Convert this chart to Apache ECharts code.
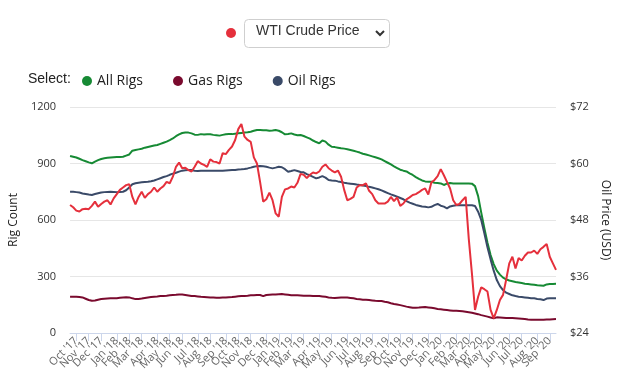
<!DOCTYPE html>
<html>
<head>
<meta charset="utf-8">
<script src="https://cdn.jsdelivr.net/npm/echarts@6/dist/echarts.min.js"></script>
<style>
html,body{margin:0;padding:0;background:#fff;}
#chart{width:626px;height:383px;}
</style>
</head>
<body>
<div id="chart"></div>
<script>
// Weekly observations, first week 2017-09-22, last week 2020-09-18
const firstWeek = '2017-09-22';
const weekCount = 157;

const monthLabels = ["Oct '17","Nov '17","Dec '17","Jan '18","Feb '18","Mar '18","Apr '18","May '18","Jun '18","Jul '18","Aug '18","Sep '18","Oct '18","Nov '18","Dec '18","Jan '19","Feb '19","Mar '19","Apr '19","May '19","Jun '19","Jul '19","Aug '19","Sep '19","Oct '19","Nov '19","Dec '19","Jan '20","Feb '20","Mar '20","Apr '20","May '20","Jun '20","Jul '20","Aug '20","Sep '20"];

const allRigs = [940,936,932,925,918,912,906,901,910,918,924,928,930,932,933,934,934,936,942,948,
968,972,975,978,984,988,992,995,998,1004,1010,1016,1024,1033,1045,1055,1062,1065,1064,1060,
1053,1052,1056,1054,1055,1055,1052,1050,1048,1052,1055,1056,1056,1058,1060,1062,1064,1066,1069,1074,
1078,1078,1077,1076,1074,1075,1078,1074,1066,1055,1057,1060,1054,1050,1051,1046,1039,1032,1022,1014,
1007,1022,1016,1000,989,987,984,981,979,976,972,968,963,958,952,948,943,938,933,928,
922,913,904,895,885,876,867,862,858,848,839,828,818,810,805,803,803,798,796,794,
786,793,796,794,794,794,794,794,794,793,780,727,639,556,479,414,366,331,310,294,
285,279,275,271,268,265,262,260,258,256,253,252,251,258,260,260,261];

const gasRigs = [193,193,192,191,189,182,175,171,173,177,180,182,183,184,184,185,187,189,190,189,
184,180,181,183,186,189,191,193,194,196,197,198,200,202,203,205,204,202,199,196,
196,194,192,191,190,189,188,187,187,188,189,190,191,193,195,196,197,198,200,201,
202,202,196,202,203,204,205,206,207,205,203,201,200,200,199,198,198,198,197,196,
196,194,192,189,187,186,187,188,189,188,186,184,181,179,177,176,175,173,171,170,
170,166,163,158,154,151,148,144,140,137,134,134,135,137,138,136,134,131,128,126,
124,122,120,118,118,117,115,113,110,107,104,100,95,91,87,82,78,83,82,81,
80,80,79,78,77,76,74,72,71,71,71,71,71,72,72,73,74];

const oilRigs = [750,750,748,746,741,738,735,733,738,742,746,748,749,750,749,748,749,750,758,773,
790,795,798,800,802,803,806,810,816,822,828,833,840,846,851,857,862,864,865,865,
862,860,862,861,862,862,861,862,861,862,863,864,865,866,868,869,871,874,878,883,
886,887,885,883,878,874,878,883,880,870,856,860,865,860,855,853,844,837,829,821,
826,833,825,812,810,809,805,802,798,795,793,791,788,786,783,780,776,773,768,763,
757,750,743,736,730,724,717,710,700,692,686,680,676,672,670,667,670,679,685,676,
671,662,672,676,678,678,678,678,678,678,674,644,600,529,455,391,331,281,249,228,
214,207,200,196,193,191,189,187,185,184,181,179,175,183,184,184,184];

const wtiPrice = [51.2,50.7,50.0,49.8,50.3,50.4,50.3,51.0,51.9,50.8,51.4,51.9,52.2,51.3,52.6,53.5,54.4,54.9,55.4,55.6,
52.9,51.3,52.9,54.0,52.7,53.5,54.0,54.9,54.0,54.7,55.2,56.1,55.8,57.2,59.3,60.2,59.0,59.1,58.6,58.3,
59.3,60.5,60.0,59.7,59.3,60.9,60.4,60.3,60.0,62.2,62.0,62.9,63.6,65.0,67.3,68.4,65.7,65.0,64.6,61.3,
60.0,56.1,51.9,52.4,53.8,52.2,49.4,48.7,52.9,54.5,54.7,55.1,54.9,55.9,57.8,57.6,56.9,57.6,58.1,57.9,
58.3,59.3,59.8,59.0,58.5,58.1,58.5,57.2,54.4,52.2,52.5,52.9,54.9,55.4,55.4,55.8,54.2,53.5,52.2,51.5,
51.5,51.5,51.9,52.9,52.0,52.8,51.0,51.5,52.4,52.8,53.3,53.5,53.9,54.4,54.7,53.4,56.0,56.5,57.3,58.8,
57.5,56.1,54.7,52.2,51.2,51.4,52.2,52.9,44.0,36.7,28.9,31.7,33.7,33.3,32.8,28.9,27.1,28.9,31.0,32.1,
35.3,38.8,40.2,37.7,39.9,39.4,40.4,41.1,41.1,41.5,40.8,41.8,42.3,42.9,40.2,38.8,37.4];

const seriesNames = ['All Rigs','Gas Rigs','Oil Rigs'];
const priceName = 'WTI Crude Price';

// build weekly category dates
const weeks = [];
{
  const d0 = new Date(firstWeek + 'T12:00:00Z');
  for (let i = 0; i < weekCount; i++) {
    const d = new Date(d0.getTime() + i * 7 * 86400000);
    weeks.push(d.toISOString().slice(0, 10));
  }
}
// index of the first week in each month gets a label
const labelAt = {};
{
  let prevMonth = weeks[0].slice(0, 7);
  let k = 0;
  for (let i = 1; i < weeks.length; i++) {
    const m = weeks[i].slice(0, 7);
    if (m !== prevMonth) {
      if (k < monthLabels.length) labelAt[i] = monthLabels[k];
      k++;
      prevMonth = m;
    }
  }
}
const showIdx = (idx) => labelAt.hasOwnProperty(idx);

const C = {green:'#168a34', maroon:'#7a0a2e', blue:'#3a4a68', red:'#e5303c'};
const FONT = '"Open Sans", "Noto Sans", sans-serif';

const chart = echarts.init(document.getElementById('chart'), null, {renderer:'canvas'});
chart.setOption({
  animation: false,
  textStyle: {fontFamily: FONT},
  grid: {left: 68, right: 70, top: 107, bottom: 50},
  legend: {
    data: seriesNames,
    left: 77, top: 69,
    icon: 'circle', itemWidth: 10, itemHeight: 10, itemGap: 30,
    textStyle: {fontSize: 14, color: '#222', fontFamily: FONT}
  },
  graphic: [
    {type:'text', left: 28, top: 72, style:{text:'Select:', fontSize:14, fill:'#222', font:'14px ' + FONT}},
    {type:'circle', shape:{cx:231, cy:33, r:5}, style:{fill:C.red}},
    {type:'rect', shape:{x:244.5, y:19.5, width:145, height:28, r:4}, style:{fill:'#fff', stroke:'#cfcfcf', lineWidth:1}},
    {type:'text', left: 256, top: 24, style:{text:priceName, fontSize:14, fill:'#333', font:'14px ' + FONT}},
    {type:'polyline', shape:{points:[[376,31],[380,35],[384,31]]}, style:{stroke:'#333', lineWidth:2, fill:null}}
  ],
  xAxis: {
    type: 'category',
    data: weeks,
    boundaryGap: false,
    axisLine: {lineStyle: {color: '#ccd6eb'}},
    axisTick: {interval: showIdx, length: 8, lineStyle: {color: '#ccd6eb'}},
    axisLabel: {
      interval: 0, rotate: 45, fontSize: 11, color: '#666', margin: 6,
      formatter: (v, idx) => labelAt[idx] || ''
    },
    splitLine: {show: false}
  },
  yAxis: [
    {
      type: 'value', min: 0, max: 1200, interval: 300,
      name: 'Rig Count', nameLocation: 'middle', nameGap: 44, nameRotate: 90,
      nameTextStyle: {fontSize: 12, color: '#222'},
      axisLine: {show: false}, axisTick: {show: false},
      axisLabel: {fontSize: 11, color: '#333', margin: 14, formatter: (v) => String(v)},
      splitLine: {lineStyle: {color: '#e6e6e6'}}
    },
    {
      type: 'value', min: 24, max: 72, interval: 12, position: 'right',
      name: 'Oil Price (USD)', nameLocation: 'middle', nameGap: 43, nameRotate: -90,
      nameTextStyle: {fontSize: 12, color: '#222'},
      axisLine: {show: false}, axisTick: {show: false},
      axisLabel: {fontSize: 11, color: '#333', margin: 14, formatter: (v) => '$' + v},
      splitLine: {show: false}
    }
  ],
  series: [
    {name: seriesNames[0], type:'line', data: allRigs, yAxisIndex:0, symbol:'none', lineStyle:{width:2, color:C.green}, itemStyle:{color:C.green}, z:3},
    {name: seriesNames[1], type:'line', data: gasRigs, yAxisIndex:0, symbol:'none', lineStyle:{width:2, color:C.maroon}, itemStyle:{color:C.maroon}, z:3},
    {name: seriesNames[2], type:'line', data: oilRigs, yAxisIndex:0, symbol:'none', lineStyle:{width:2, color:C.blue}, itemStyle:{color:C.blue}, z:3},
    {name: priceName, type:'line', data: wtiPrice, yAxisIndex:1, symbol:'none', lineStyle:{width:2, color:C.red}, itemStyle:{color:C.red}, z:4}
  ]
});
</script>
</body>
</html>
